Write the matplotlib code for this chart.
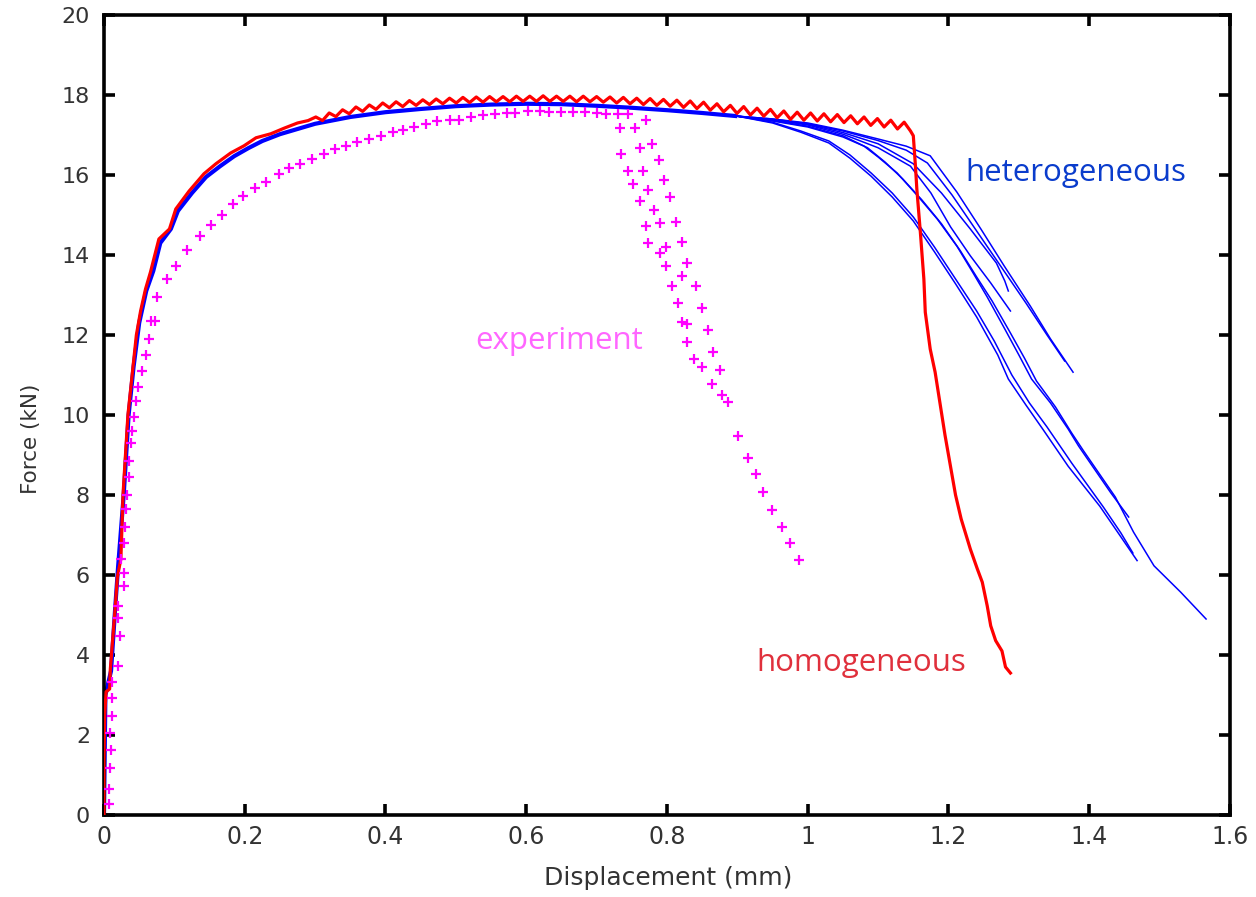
import matplotlib
matplotlib.use("Agg")
import matplotlib.pyplot as plt
import numpy as np

# ---------------- data ----------------
# homogeneous model: rising part, then the oscillating plateau (peaks / troughs), then the drop
homo_rise_x = [0.0, 0.0, 0.001, 0.003, 0.008, 0.009, 0.012, 0.016, 0.019, 0.024, 0.027, 0.034,
               0.040, 0.046, 0.052, 0.059, 0.066, 0.078, 0.093, 0.102, 0.121, 0.142, 0.159,
               0.180, 0.199, 0.216, 0.237, 0.256, 0.275, 0.290]
homo_rise_y = [0.0, 1.4, 2.5, 3.08, 3.15, 3.65, 4.3, 5.2, 5.95, 6.4, 8.0, 10.0,
               11.0, 12.0, 12.6, 13.15, 13.57, 14.4, 14.65, 15.15, 15.6, 16.03, 16.28,
               16.55, 16.73, 16.93, 17.03, 17.17, 17.3, 17.36]
homo_peak_x = [0.301, 0.320, 0.339, 0.358, 0.377, 0.396, 0.415, 0.434, 0.453, 0.472, 0.491,
               0.510, 0.529, 0.548, 0.567, 0.586, 0.605, 0.624, 0.643, 0.662, 0.681, 0.700,
               0.719, 0.738, 0.757, 0.776, 0.795, 0.814, 0.833, 0.852, 0.871, 0.890, 0.909,
               0.928, 0.947, 0.966, 0.985, 1.004, 1.023, 1.042, 1.061, 1.080, 1.099, 1.118,
               1.137]
homo_peak_y = [17.45, 17.55, 17.63, 17.70, 17.75, 17.80, 17.83, 17.86, 17.88, 17.90, 17.92,
               17.94, 17.95, 17.96, 17.96, 17.97, 17.97, 17.98, 17.97, 17.97, 17.97, 17.96,
               17.95, 17.94, 17.92, 17.91, 17.89, 17.87, 17.85, 17.82, 17.78, 17.74, 17.71,
               17.67, 17.64, 17.60, 17.57, 17.55, 17.53, 17.51, 17.48, 17.45, 17.41, 17.37,
               17.32]
homo_trough_x = [0.3105, 0.3295, 0.3485, 0.3675, 0.3865, 0.4055, 0.4245, 0.4435, 0.4625,
                 0.4815, 0.5005, 0.5195, 0.5385, 0.5575, 0.5765, 0.5955, 0.6145, 0.6335,
                 0.6525, 0.6715, 0.6905, 0.7095, 0.7285, 0.7475, 0.7665, 0.7855, 0.8045,
                 0.8235, 0.8425, 0.8615, 0.8805, 0.8995, 0.9185, 0.9375, 0.9565, 0.9755,
                 0.9945, 1.0135, 1.0325, 1.0515, 1.0705, 1.0895, 1.1085, 1.1275]
homo_trough_y = [17.36, 17.46, 17.53, 17.59, 17.64, 17.68, 17.71, 17.74, 17.76, 17.78, 17.80,
                 17.81, 17.82, 17.83, 17.83, 17.84, 17.84, 17.84, 17.84, 17.83, 17.83, 17.82,
                 17.80, 17.78, 17.76, 17.74, 17.72, 17.69, 17.66, 17.62, 17.58, 17.54, 17.50,
                 17.47, 17.43, 17.39, 17.37, 17.35, 17.33, 17.31, 17.28, 17.24, 17.20, 17.15]
homo_drop_x = [1.146, 1.150, 1.153, 1.155, 1.160, 1.165, 1.167, 1.174, 1.181, 1.187, 1.195,
               1.203, 1.210, 1.218, 1.225, 1.231, 1.241, 1.248, 1.255, 1.260, 1.267, 1.276,
               1.281, 1.288]
homo_drop_y = [17.1, 16.98, 16.23, 15.65, 14.57, 13.4, 12.57, 11.65, 11.07, 10.4, 9.5,
               8.7, 8.0, 7.4, 7.0, 6.65, 6.15, 5.82, 5.23, 4.73, 4.36, 4.1,
               3.7, 3.55]

# heterogeneous realisations: common pre-peak path, then individual softening branches
het_base_x = [0.0, 0.002, 0.010, 0.016, 0.020, 0.028, 0.035, 0.042, 0.050, 0.060, 0.070, 0.080,
              0.095, 0.105, 0.125, 0.145, 0.165, 0.185, 0.205, 0.225, 0.250, 0.300, 0.350,
              0.400, 0.450, 0.500, 0.550, 0.600, 0.650, 0.700, 0.750, 0.800, 0.850, 0.900]
het_base_y = [0.0, 3.0, 3.6, 5.2, 6.2, 8.0, 10.0, 11.2, 12.3, 13.1, 13.6, 14.3,
              14.65, 15.1, 15.55, 15.95, 16.22, 16.47, 16.67, 16.85, 17.02, 17.28, 17.45,
              17.57, 17.65, 17.72, 17.76, 17.78, 17.77, 17.73, 17.68, 17.62, 17.55, 17.47]

het_tail_1_x = [0.95, 0.99, 1.03, 1.06, 1.09, 1.12, 1.15, 1.18, 1.21, 1.24, 1.27, 1.285, 1.31,
                1.335, 1.37, 1.415, 1.44, 1.468]
het_tail_1_y = [17.3, 17.07, 16.8, 16.42, 15.97, 15.45, 14.85, 14.08, 13.28, 12.45, 11.5, 10.9,
                10.25, 9.62, 8.72, 7.72, 7.08, 6.36]
het_tail_2_x = [0.95, 0.99, 1.03, 1.06, 1.09, 1.12, 1.15, 1.18, 1.21, 1.24, 1.265, 1.29, 1.315,
                1.34, 1.375, 1.42, 1.445, 1.462]
het_tail_2_y = [17.32, 17.1, 16.85, 16.5, 16.05, 15.55, 14.95, 14.2, 13.4, 12.6, 11.85, 11.0,
                10.3, 9.7, 8.8, 7.7, 7.05, 6.55]
het_tail_3_x = [0.95, 1.0, 1.05, 1.08, 1.10, 1.127, 1.155, 1.184, 1.212, 1.235, 1.255, 1.28,
                1.30, 1.318, 1.345, 1.37, 1.385, 1.43, 1.456]
het_tail_3_y = [17.35, 17.2, 16.95, 16.72, 16.45, 16.05, 15.5, 14.9, 14.22, 13.55, 12.95, 12.15,
                11.5, 10.9, 10.3, 9.65, 9.22, 8.07, 7.45]
het_tail_4_x = [0.95, 1.0, 1.05, 1.085, 1.11, 1.135, 1.162, 1.19, 1.217, 1.24, 1.262, 1.288,
                1.308, 1.325, 1.352, 1.375, 1.392, 1.437, 1.463, 1.492, 1.53, 1.566]
het_tail_4_y = [17.36, 17.22, 16.98, 16.68, 16.32, 15.9, 15.38, 14.78, 14.1, 13.45, 12.85, 12.05,
                11.42, 10.85, 10.2, 9.55, 9.1, 7.95, 7.07, 6.23, 5.57, 4.9]
het_tail_5_x = [0.95, 1.0, 1.05, 1.10, 1.146, 1.175, 1.203, 1.231, 1.26, 1.288]
het_tail_5_y = [17.38, 17.25, 17.02, 16.68, 16.22, 15.55, 14.7, 13.98, 13.3, 12.6]
het_tail_6_x = [0.95, 1.0, 1.05, 1.10, 1.15, 1.19, 1.231, 1.268, 1.28, 1.285]
het_tail_6_y = [17.38, 17.27, 17.06, 16.78, 16.28, 15.55, 14.65, 13.8, 13.35, 13.1]
het_tail_7_x = [0.95, 1.0, 1.05, 1.10, 1.14, 1.174, 1.212, 1.246, 1.279, 1.316, 1.345, 1.377]
het_tail_7_y = [17.4, 17.3, 17.12, 16.9, 16.72, 16.48, 15.57, 14.65, 13.73, 12.73, 11.9, 11.07]
het_tail_8_x = [0.95, 1.0, 1.05, 1.10, 1.14, 1.17, 1.205, 1.24, 1.275, 1.31, 1.34, 1.365]
het_tail_8_y = [17.4, 17.28, 17.1, 16.86, 16.62, 16.3, 15.5, 14.6, 13.7, 12.8, 12.0, 11.35]

# experimental measurements
exp_x = [0.007, 0.007, 0.009, 0.010, 0.009, 0.012, 0.012, 0.011, 0.020, 0.023, 0.020, 0.020,
         0.028, 0.029, 0.024, 0.028, 0.030, 0.031, 0.032, 0.035, 0.036, 0.039, 0.040, 0.043,
         0.045, 0.048, 0.054, 0.060, 0.064, 0.067, 0.073, 0.076, 0.089, 0.102, 0.118, 0.137,
         0.152, 0.167, 0.184, 0.198, 0.215, 0.230, 0.248, 0.263, 0.279, 0.295, 0.312, 0.328,
         0.344, 0.360, 0.377, 0.394, 0.410, 0.425, 0.441, 0.458, 0.473, 0.491, 0.505, 0.522,
         0.538, 0.555, 0.572, 0.584, 0.603, 0.619, 0.633, 0.650, 0.667, 0.683, 0.700, 0.714,
         0.731, 0.745, 0.770,
         0.733, 0.735, 0.745, 0.752, 0.762, 0.770, 0.773, 0.790, 0.798,
         0.754, 0.762, 0.766, 0.773, 0.781, 0.790, 0.798,
         0.778, 0.788, 0.796, 0.804, 0.813, 0.821, 0.829, 0.821,
         0.807, 0.841, 0.815, 0.850, 0.821, 0.829, 0.858, 0.829, 0.866, 0.839, 0.850, 0.875,
         0.864, 0.878, 0.886, 0.901, 0.915, 0.927, 0.937, 0.949, 0.963, 0.975, 0.987]
exp_y = [0.27, 0.65, 1.17, 1.62, 2.05, 2.48, 2.92, 3.32, 3.73, 4.48, 4.93, 5.23,
         5.73, 6.04, 6.4, 6.8, 7.2, 7.65, 8.0, 8.45, 8.85, 9.3, 9.6, 9.95,
         10.35, 10.7, 11.1, 11.5, 11.9, 12.35, 12.35, 12.94, 13.4, 13.73, 14.13, 14.47,
         14.75, 15.0, 15.27, 15.47, 15.67, 15.83, 16.03, 16.18, 16.28, 16.4, 16.53, 16.65,
         16.73, 16.82, 16.9, 16.98, 17.07, 17.13, 17.2, 17.28, 17.34, 17.38, 17.38, 17.44,
         17.51, 17.52, 17.55, 17.55, 17.59, 17.59, 17.57, 17.57, 17.57, 17.57, 17.55, 17.52,
         17.52, 17.52, 17.38,
         17.17, 16.53, 16.09, 15.78, 15.34, 14.73, 14.29, 14.04, 13.73,
         17.17, 16.67, 16.09, 15.63, 15.13, 14.79, 14.19,
         16.78, 16.38, 15.88, 15.44, 14.83, 14.33, 13.80, 13.48,
         13.23, 13.23, 12.79, 12.68, 12.33, 12.28, 12.13, 11.82, 11.58, 11.40, 11.19, 11.13,
         10.78, 10.50, 10.32, 9.48, 8.93, 8.53, 8.08, 7.63, 7.19, 6.79, 6.38]

x_ticks = [0, 0.2, 0.4, 0.6, 0.8, 1.0, 1.2, 1.4, 1.6]
x_tick_labels = ["0", "0.2", "0.4", "0.6", "0.8", "1", "1.2", "1.4", "1.6"]
y_ticks = [0, 2, 4, 6, 8, 10, 12, 14, 16, 18, 20]

# ---------------- figure ----------------
fig = plt.figure(figsize=(12.56, 8.97), dpi=100)
ax = fig.add_axes([0.0828, 0.0914, 0.8965, 0.8919])

BLUE = "#0000ff"
RED = "#ff0000"
MAGENTA = "#ff00ff"

tails = [
    (het_tail_1_x, het_tail_1_y), (het_tail_2_x, het_tail_2_y),
    (het_tail_3_x, het_tail_3_y), (het_tail_4_x, het_tail_4_y),
    (het_tail_5_x, het_tail_5_y), (het_tail_6_x, het_tail_6_y),
    (het_tail_7_x, het_tail_7_y), (het_tail_8_x, het_tail_8_y),
]
for tx, ty in tails:
    ax.plot(het_base_x + tx, het_base_y + ty, color=BLUE, lw=1.1, zorder=2)
# the overlapping realisations form a thicker band before the peak
ax.plot(het_base_x, het_base_y, color=BLUE, lw=3.0, zorder=2, solid_capstyle="butt")

# homogeneous curve: interleave peaks and troughs of the plateau oscillation
plateau = sorted(zip(homo_peak_x + homo_trough_x, homo_peak_y + homo_trough_y))
homo_x = homo_rise_x + [p[0] for p in plateau] + homo_drop_x
homo_y = homo_rise_y + [p[1] for p in plateau] + homo_drop_y
ax.plot(homo_x, homo_y, color=RED, lw=2.3, zorder=3, solid_joinstyle="round")

ax.plot(exp_x, exp_y, linestyle="none", marker="+", color=MAGENTA,
        markersize=7.5, markeredgewidth=1.6, zorder=4)

# annotations
ann_font = ["Open Sans", "DejaVu Sans"]
ax.text(1.224, 16.05, "heterogeneous", color="#0a3ccc", fontsize=22.5,
        family=ann_font, va="center", ha="left")
ax.text(0.528, 11.85, "experiment", color="#ff66ff", fontsize=22.5,
        family=ann_font, va="center", ha="left")
ax.text(0.927, 3.8, "homogeneous", color="#e0303c", fontsize=22.5,
        family=ann_font, va="center", ha="left")

# axes styling
ax.set_xlim(0, 1.6)
ax.set_ylim(0, 20)
ax.set_xticks(x_ticks)
ax.set_xticklabels(x_tick_labels)
ax.set_yticks(y_ticks)
for side in ["left", "right", "top", "bottom"]:
    ax.spines[side].set_linewidth(2.6)
    ax.spines[side].set_color("black")
ax.tick_params(direction="in", length=8, width=2.6, top=True, right=True, colors="black")
ax.tick_params(axis="x", pad=7, labelsize=17)
ax.tick_params(axis="y", pad=10, labelsize=16)
for lab in ax.get_xticklabels() + ax.get_yticklabels():
    lab.set_color("#333333")
ax.set_xlabel("Displacement (mm)", fontsize=18, color="#333333")
ax.set_ylabel("Force (kN)", fontsize=15.5, color="#333333")
ax.xaxis.set_label_coords(0.501, -0.064)
ax.yaxis.set_label_coords(-0.056, 0.47)

fig.savefig("out.png", dpi=100, facecolor="white")
